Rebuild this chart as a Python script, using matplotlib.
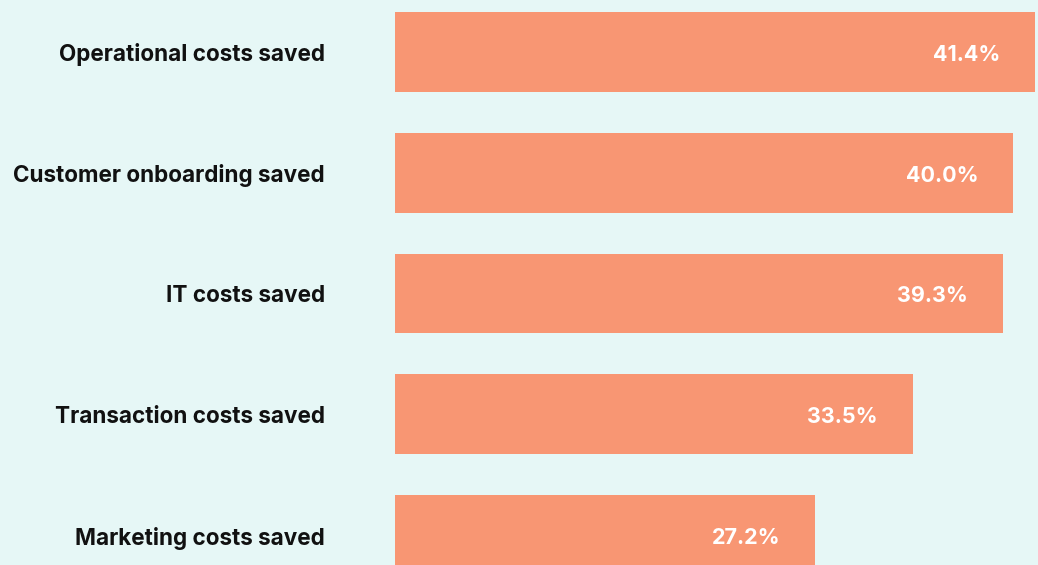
import matplotlib
matplotlib.use("Agg")
import matplotlib.pyplot as plt
from matplotlib.transforms import offset_copy

categories = ["Operational costs saved", "Customer onboarding saved", "IT costs saved",
              "Transaction costs saved", "Marketing costs saved"]
values = [41.4, 40.0, 39.3, 33.5, 27.2]
value_labels = ["41.4%", "40.0%", "39.3%", "33.5%", "27.2%"]

BG = "#E6F7F6"
BAR = "#F89673"
FONT = ["Inter", "DejaVu Sans"]

W, H = 1038, 565
fig = plt.figure(figsize=(W / 100, H / 100), dpi=100, facecolor=BG)
ax = fig.add_axes([395 / W, 0, 640 / W, 1])
ax.set_facecolor(BG)

ypos = list(range(len(categories)))
ax.barh(ypos, values, height=0.66, color=BAR, edgecolor="none")
ax.set_xlim(0, 41.4)
ax.set_ylim(4 + 30 / 120.75, -52 / 120.75)

ax.set_yticks(ypos)
ax.set_yticklabels([])
ax.tick_params(axis="y", length=0)
ax.set_xticks([])
for s in ax.spines.values():
    s.set_visible(False)

cat_tr = offset_copy(ax.get_yaxis_transform(), fig=fig, x=-70 * 0.72, y=-3 * 0.72, units="points")
for y, cat in zip(ypos, categories):
    ax.text(0, y, cat, transform=cat_tr, ha="right", va="center", color="#111111",
            fontsize=16.2, fontweight="bold", family=FONT)

for y, v, lab in zip(ypos, values, value_labels):
    tr = offset_copy(ax.transData, fig=fig, x=-35 * 0.72, y=-3 * 0.72, units="points")
    ax.text(v, y, lab, transform=tr, ha="right", va="center", color="white",
            fontsize=15.5, fontweight="bold", family=FONT)

fig.savefig("out.png", dpi=100, facecolor=BG)
